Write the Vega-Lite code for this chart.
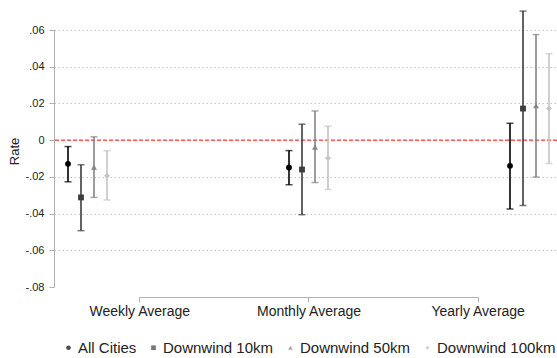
{
  "$schema": "https://vega.github.io/schema/vega-lite/v6.json",
  "autosize": "none",
  "width": 503,
  "height": 257,
  "padding": {"left": 54, "top": 30, "right": 0, "bottom": 71},
  "background": "white",
  "config": {
    "font": "Liberation Sans",
    "view": {"stroke": null},
    "legend": {
      "orient": "none",
      "legendX": 7,
      "legendY": 310,
      "direction": "horizontal",
      "labelFontSize": 15,
      "labelColor": "#222222",
      "labelFont": "Liberation Sans",
      "symbolSize": 22,
      "labelOffset": 2,
      "columnPadding": 9,
      "symbolStrokeWidth": 0
    }
  },
  "data": {
    "values": [
      {"period": "Weekly Average", "pidx": 1, "series": "All Cities", "est": -0.0129, "lo": -0.0227, "hi": -0.0035},
      {"period": "Weekly Average", "pidx": 1, "series": "Downwind 10km", "est": -0.0312, "lo": -0.0493, "hi": -0.0134},
      {"period": "Weekly Average", "pidx": 1, "series": "Downwind 50km", "est": -0.0147, "lo": -0.0312, "hi": 0.0018},
      {"period": "Weekly Average", "pidx": 1, "series": "Downwind 100km", "est": -0.0194, "lo": -0.0326, "hi": -0.0058},
      {"period": "Monthly Average", "pidx": 2, "series": "All Cities", "est": -0.0149, "lo": -0.0243, "hi": -0.0057},
      {"period": "Monthly Average", "pidx": 2, "series": "Downwind 10km", "est": -0.0160, "lo": -0.0406, "hi": 0.0087},
      {"period": "Monthly Average", "pidx": 2, "series": "Downwind 50km", "est": -0.0038, "lo": -0.0231, "hi": 0.0159},
      {"period": "Monthly Average", "pidx": 2, "series": "Downwind 100km", "est": -0.0098, "lo": -0.0269, "hi": 0.0076},
      {"period": "Yearly Average", "pidx": 3, "series": "All Cities", "est": -0.0140, "lo": -0.0375, "hi": 0.0092},
      {"period": "Yearly Average", "pidx": 3, "series": "Downwind 10km", "est": 0.0172, "lo": -0.0356, "hi": 0.0703},
      {"period": "Yearly Average", "pidx": 3, "series": "Downwind 50km", "est": 0.0187, "lo": -0.0201, "hi": 0.0575},
      {"period": "Yearly Average", "pidx": 3, "series": "Downwind 100km", "est": 0.0172, "lo": -0.0127, "hi": 0.0471}
    ]
  },
  "layer": [
    {
      "mark": {"type": "point", "opacity": 0},
      "encoding": {
        "x": {
          "field": "pidx", "type": "quantitative",
          "scale": {"domain": [0.4959, 3.4687], "nice": false, "zero": false},
          "axis": {
            "title": null, "orient": "bottom", "offset": 10,
            "values": [1, 2, 3],
            "labelExpr": "datum.value == 1 ? 'Weekly Average' : datum.value == 2 ? 'Monthly Average' : 'Yearly Average'",
            "labelFontSize": 14, "labelColor": "#222222", "labelPadding": 2,
            "tickSize": 5, "tickColor": "#b0b0b0",
            "domainColor": "#b0b0b0", "domainDash": [338.4, 164.6], "domainDashOffset": 417.7,
            "grid": false
          }
        },
        "y": {
          "field": "est", "type": "quantitative", "title": "Rate",
          "scale": {"domain": [-0.08, 0.06], "nice": false, "zero": false},
          "axis": {
            "titleFontSize": 13, "titleFontWeight": "normal", "titleColor": "#222222", "titlePadding": 4, "titleY": 121,
            "values": [-0.08, -0.06, -0.04, -0.02, 0, 0.02, 0.04, 0.06],
            "labelExpr": "datum.value == 0 ? '0' : (datum.value < 0 ? '-' : '') + replace(format(abs(datum.value), '.2f'), '0.', '.')",
            "labelFontSize": 11, "labelColor": "#222222", "labelPadding": 5, "labelOverlap": false,
            "tickSize": 5, "tickColor": "#b0b0b0", "domainColor": "#b0b0b0",
            "grid": true, "gridColor": "#c4c4c4", "gridDash": [1.5, 2.5],
            "gridOpacity": {"condition": {"test": "datum.value < -0.07 || abs(datum.value) < 0.001", "value": 0}, "value": 1}
          }
        }
      }
    },
    {
      "data": {"values": [{"ref": 0}]},
      "mark": {"type": "rule", "color": "#ff0000", "strokeDash": [4, 2], "strokeWidth": 1},
      "encoding": {
        "y": {
          "field": "ref", "type": "quantitative", "title": "Rate",
          "scale": {"domain": [-0.08, 0.06], "nice": false, "zero": false},
          "axis": {
            "titleFontSize": 13, "titleFontWeight": "normal", "titleColor": "#222222", "titlePadding": 4, "titleY": 121,
            "values": [-0.08, -0.06, -0.04, -0.02, 0, 0.02, 0.04, 0.06],
            "labelExpr": "datum.value == 0 ? '0' : (datum.value < 0 ? '-' : '') + replace(format(abs(datum.value), '.2f'), '0.', '.')",
            "labelFontSize": 11, "labelColor": "#222222", "labelPadding": 5, "labelOverlap": false,
            "tickSize": 5, "tickColor": "#b0b0b0", "domainColor": "#b0b0b0",
            "grid": true, "gridColor": "#c4c4c4", "gridDash": [1.5, 2.5],
            "gridOpacity": {"condition": {"test": "datum.value < -0.07 || abs(datum.value) < 0.001", "value": 0}, "value": 1}
          }
        }
      }
    },
    {
      "encoding": {
        "x": {
          "field": "period", "type": "nominal",
          "scale": {"type": "point", "domain": ["Weekly Average", "Monthly Average", "Yearly Average"], "padding": 0.138},
          "axis": null
        },
        "xOffset": {
          "field": "series", "type": "nominal",
          "scale": {"type": "point", "range": [-16.5, 22.5], "padding": 0, "domain": ["All Cities", "Downwind 10km", "Downwind 50km", "Downwind 100km"]}
        },
        "color": {
          "field": "series", "type": "nominal",
          "scale": {"domain": ["All Cities", "Downwind 10km", "Downwind 50km", "Downwind 100km"], "range": ["#000000", "#3d3d3d", "#858585", "#c4c4c4"]},
          "title": null
        }
      },
      "layer": [
        {
          "mark": {"type": "rule", "strokeWidth": 1.6},
          "encoding": {
            "y": {
              "field": "lo", "type": "quantitative", "title": "Rate",
              "scale": {"domain": [-0.08, 0.06], "nice": false, "zero": false},
              "axis": {
                "titleFontSize": 13, "titleFontWeight": "normal", "titleColor": "#222222", "titlePadding": 4, "titleY": 121,
                "values": [-0.08, -0.06, -0.04, -0.02, 0, 0.02, 0.04, 0.06],
                "labelExpr": "datum.value == 0 ? '0' : (datum.value < 0 ? '-' : '') + replace(format(abs(datum.value), '.2f'), '0.', '.')",
                "labelFontSize": 11, "labelColor": "#222222", "labelPadding": 5, "labelOverlap": false,
                "tickSize": 5, "tickColor": "#b0b0b0", "domainColor": "#b0b0b0",
                "grid": true, "gridColor": "#c4c4c4", "gridDash": [1.5, 2.5],
                "gridOpacity": {"condition": {"test": "datum.value < -0.07 || abs(datum.value) < 0.001", "value": 0}, "value": 1}
              }
            },
            "y2": {"field": "hi"}
          }
        },
        {
          "mark": {"type": "tick", "orient": "horizontal", "size": 7, "thickness": 1.5},
          "encoding": {
            "y": {
              "field": "lo", "type": "quantitative", "title": "Rate",
              "scale": {"domain": [-0.08, 0.06], "nice": false, "zero": false},
              "axis": {
                "titleFontSize": 13, "titleFontWeight": "normal", "titleColor": "#222222", "titlePadding": 4, "titleY": 121,
                "values": [-0.08, -0.06, -0.04, -0.02, 0, 0.02, 0.04, 0.06],
                "labelExpr": "datum.value == 0 ? '0' : (datum.value < 0 ? '-' : '') + replace(format(abs(datum.value), '.2f'), '0.', '.')",
                "labelFontSize": 11, "labelColor": "#222222", "labelPadding": 5, "labelOverlap": false,
                "tickSize": 5, "tickColor": "#b0b0b0", "domainColor": "#b0b0b0",
                "grid": true, "gridColor": "#c4c4c4", "gridDash": [1.5, 2.5],
                "gridOpacity": {"condition": {"test": "datum.value < -0.07 || abs(datum.value) < 0.001", "value": 0}, "value": 1}
              }
            }
          }
        },
        {
          "mark": {"type": "tick", "orient": "horizontal", "size": 7, "thickness": 1.5},
          "encoding": {
            "y": {
              "field": "hi", "type": "quantitative", "title": "Rate",
              "scale": {"domain": [-0.08, 0.06], "nice": false, "zero": false},
              "axis": {
                "titleFontSize": 13, "titleFontWeight": "normal", "titleColor": "#222222", "titlePadding": 4, "titleY": 121,
                "values": [-0.08, -0.06, -0.04, -0.02, 0, 0.02, 0.04, 0.06],
                "labelExpr": "datum.value == 0 ? '0' : (datum.value < 0 ? '-' : '') + replace(format(abs(datum.value), '.2f'), '0.', '.')",
                "labelFontSize": 11, "labelColor": "#222222", "labelPadding": 5, "labelOverlap": false,
                "tickSize": 5, "tickColor": "#b0b0b0", "domainColor": "#b0b0b0",
                "grid": true, "gridColor": "#c4c4c4", "gridDash": [1.5, 2.5],
                "gridOpacity": {"condition": {"test": "datum.value < -0.07 || abs(datum.value) < 0.001", "value": 0}, "value": 1}
              }
            }
          }
        },
        {
          "mark": {"type": "point", "filled": true, "size": 34, "opacity": 1},
          "encoding": {
            "y": {
              "field": "est", "type": "quantitative", "title": "Rate",
              "scale": {"domain": [-0.08, 0.06], "nice": false, "zero": false},
              "axis": {
                "titleFontSize": 13, "titleFontWeight": "normal", "titleColor": "#222222", "titlePadding": 4, "titleY": 121,
                "values": [-0.08, -0.06, -0.04, -0.02, 0, 0.02, 0.04, 0.06],
                "labelExpr": "datum.value == 0 ? '0' : (datum.value < 0 ? '-' : '') + replace(format(abs(datum.value), '.2f'), '0.', '.')",
                "labelFontSize": 11, "labelColor": "#222222", "labelPadding": 5, "labelOverlap": false,
                "tickSize": 5, "tickColor": "#b0b0b0", "domainColor": "#b0b0b0",
                "grid": true, "gridColor": "#c4c4c4", "gridDash": [1.5, 2.5],
                "gridOpacity": {"condition": {"test": "datum.value < -0.07 || abs(datum.value) < 0.001", "value": 0}, "value": 1}
              }
            },
            "shape": {
              "field": "series", "type": "nominal",
              "scale": {"domain": ["All Cities", "Downwind 10km", "Downwind 50km", "Downwind 100km"], "range": ["circle", "square", "triangle-up", "diamond"]},
              "title": null
            }
          }
        }
      ]
    }
  ],
  "resolve": {"scale": {"x": "independent"}}
}
